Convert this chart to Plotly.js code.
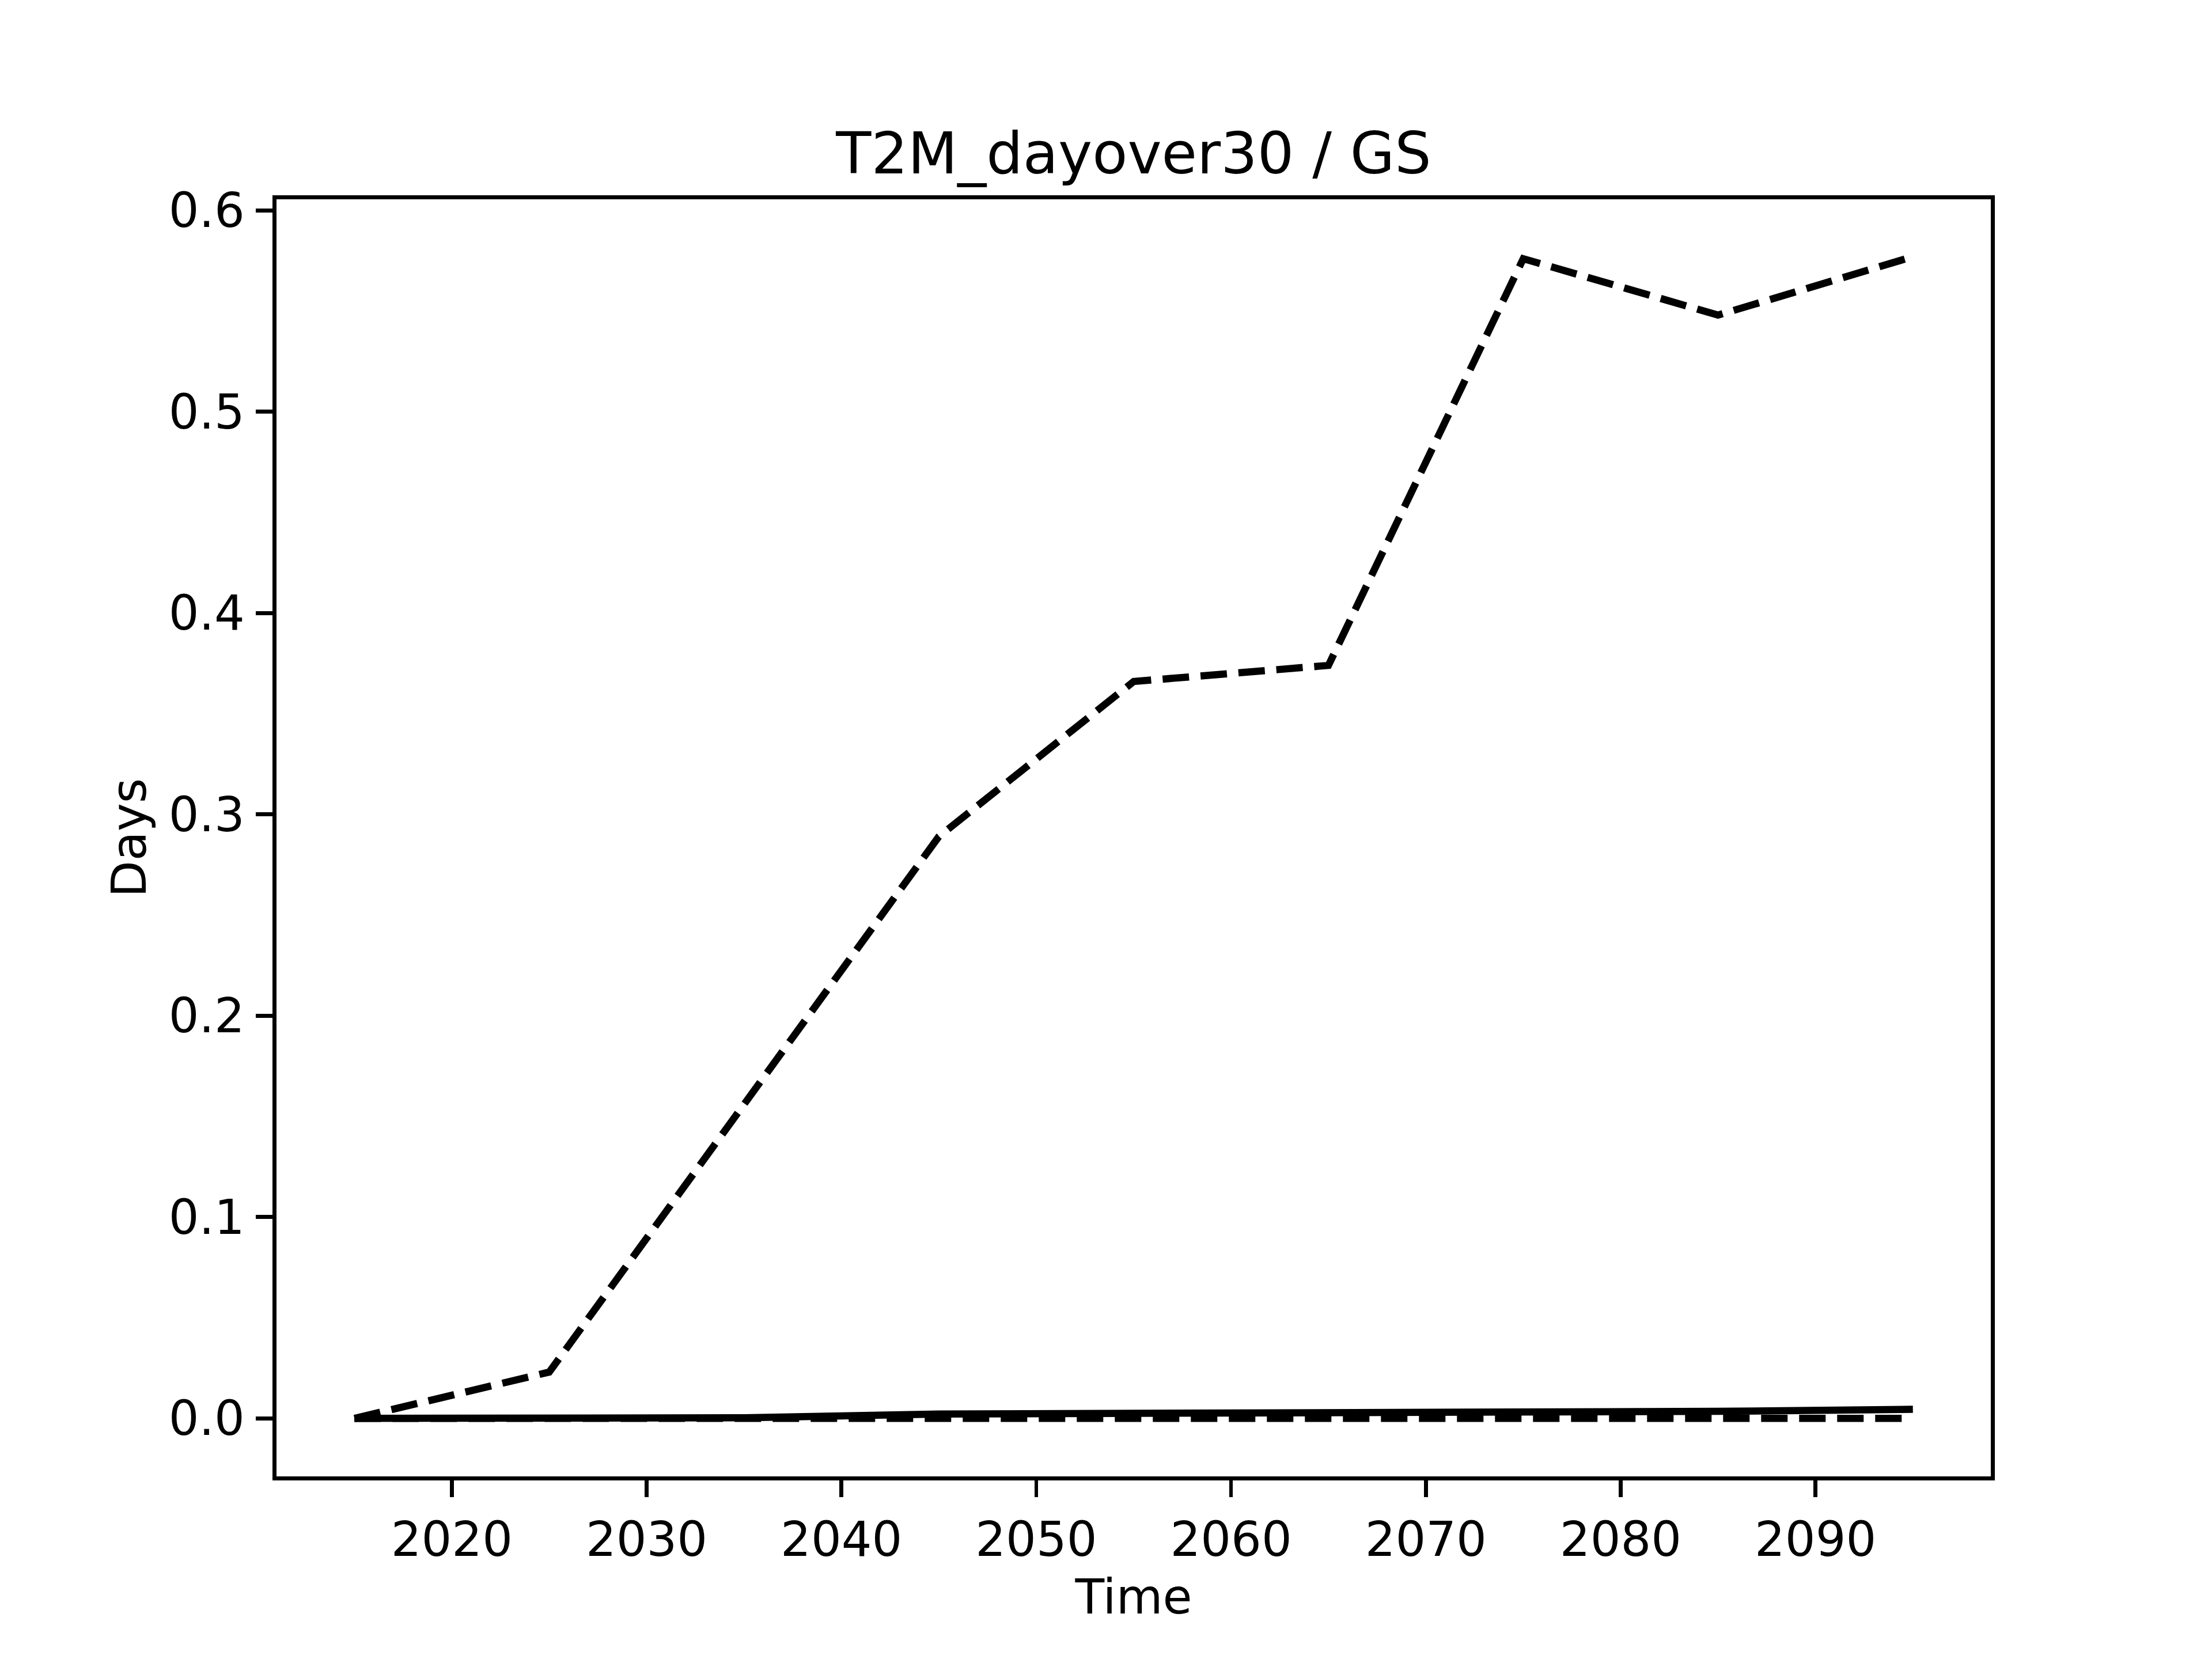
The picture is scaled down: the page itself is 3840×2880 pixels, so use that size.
<!DOCTYPE html>
<html>
<head>
<meta charset="utf-8">
<script src="https://cdn.plot.ly/plotly-3.0.1.min.js"></script>
<style>html,body{margin:0;padding:0;background:#fff;}#chart{width:3840px;height:2880px;}</style>
</head>
<body>
<div id="chart"></div>
<script>
const years = [2015, 2025, 2035, 2045, 2055, 2065, 2075, 2085, 2095];
const seriesHigh = [0.0, 0.023, 0.156, 0.289, 0.366, 0.374, 0.576, 0.548, 0.577];
const seriesMid = [0.0, 0.0, 0.0003, 0.0022, 0.0025, 0.0026, 0.0027, 0.0035, 0.0045];
const seriesLow = [0.0, 0.0, 0.0, 0.0, 0.0, 0.0, 0.0, 0.0, 0.0];
const xTicks = [2020, 2030, 2040, 2050, 2060, 2070, 2080, 2090];
const yTicks = [0.0, 0.1, 0.2, 0.3, 0.4, 0.5, 0.6];

const LW = 12.5;
const DASH = '46px,20px';
const traces = [
  {x: years, y: seriesLow, mode: 'lines', line: {color: '#000', width: LW, dash: DASH}, showlegend: false},
  {x: years, y: seriesHigh, mode: 'lines', line: {color: '#000', width: LW, dash: DASH}, showlegend: false},
  {x: years, y: seriesMid, mode: 'lines', line: {color: '#000', width: LW}, showlegend: false}
];
const font = {family: 'DejaVu Sans', color: '#000'};
const layout = {
  width: 3840, height: 2880,
  paper_bgcolor: '#fff', plot_bgcolor: '#fff',
  margin: {l: 480, r: 384, t: 346, b: 317, pad: 0},
  font: Object.assign({size: 83}, font),
  title: {text: 'T2M_dayover30 / GS', font: Object.assign({size: 100}, font),
          x: 0.5, xref: 'paper', y: 1, yref: 'paper', yanchor: 'bottom', pad: {b: 45}},
  xaxis: {
    range: [2011, 2099], tickvals: xTicks, ticktext: xTicks.map(String),
    ticks: 'outside', ticklen: 29, tickwidth: 6.7, tickcolor: '#000',
    showline: true, linecolor: '#000', linewidth: 6.7, mirror: true,
    showgrid: false, zeroline: false, ticklabelstandoff: 3,
    tickfont: Object.assign({size: 83}, font),
    title: {text: 'Time', font: Object.assign({size: 83}, font), standoff: 25}
  },
  yaxis: {
    range: [-0.0288, 0.6055], tickvals: yTicks, ticktext: yTicks.map(v => v.toFixed(1)),
    ticks: 'outside', ticklen: 29, tickwidth: 6.7, tickcolor: '#000',
    showline: true, linecolor: '#000', linewidth: 6.7, mirror: true,
    showgrid: false, zeroline: false, ticklabelstandoff: 3,
    tickfont: Object.assign({size: 83}, font),
    title: {text: 'Days', font: Object.assign({size: 83}, font), standoff: 14}
  }
};
Plotly.newPlot('chart', traces, layout, {staticPlot: true});
</script>
</body>
</html>
